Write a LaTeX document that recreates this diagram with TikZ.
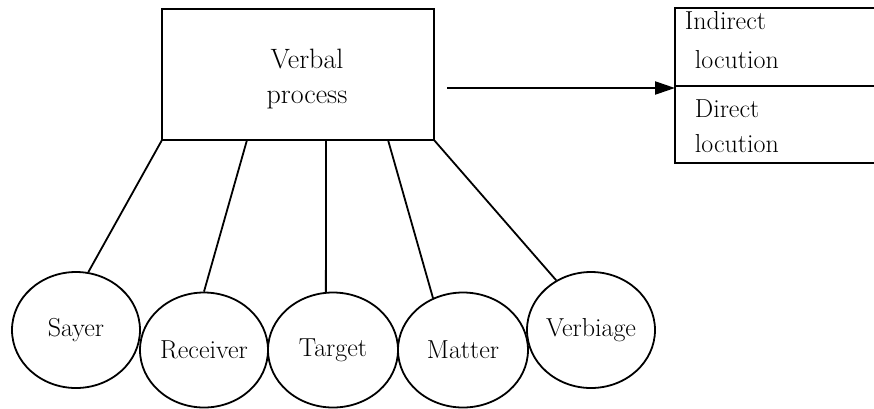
\documentclass[tikz,border=0pt]{standalone}
\usetikzlibrary{shapes.geometric,arrows.meta,calc}
\begin{document}
\begin{tikzpicture}[x=1pt,y=-1pt, line width=1.8pt,
  box/.style={draw, rectangle, inner sep=0pt, outer sep=0pt},
  role/.style={draw, ellipse, inner sep=0pt, minimum width=128pt, minimum height=116pt, font=\fontsize{26}{31}\selectfont},
  lbl/.style={font=\fontsize{26}{31}\selectfont, inner sep=0pt},
  biglbl/.style={font=\fontsize{28}{33}\selectfont, inner sep=0pt},
  conn/.style={line width=1.8pt},
  arr/.style={line width=2.2pt, -{Triangle[length=20pt,width=13pt]}}]
\useasboundingbox (0,0) rectangle (874,408);
\clip (0,0) rectangle (874,408);
% main box
\node[box, minimum width=272pt, minimum height=131pt] (vp) at (298,74.5) {};
\node[biglbl, anchor=base] (vpa) at (307,68) {Verbal};
\node[biglbl, anchor=base] (vpb) at (307,103) {process};
% locution boxes
\node[box, anchor=north west, minimum width=230pt, minimum height=78pt] (ind) at (675,8) {};
\node[box, anchor=north west, minimum width=230pt, minimum height=77pt] (dir) at (ind.south west) {};
\node[lbl, anchor=base west] (t1) at (684,29) {Indirect};
\node[lbl, anchor=base west] (t2) at (694,68) {locution};
\node[lbl, anchor=base west] (t3) at (694,117) {Direct};
\node[lbl, anchor=base west] (t4) at (694,152) {locution};
% arrow
\coordinate (as) at (447,88);
\draw[arr] (as) -- (as -| dir.west);
% roles
\node[role] (sayer) at (76,330) {Sayer};
\node[role, minimum height=115pt] (receiver) at (204,350) {Receiver};
\node[role, minimum width=130pt, minimum height=115pt] (target) at (333,350) {Target};
\node[role, minimum width=130pt, minimum height=115pt] (matter) at (463,350) {Matter};
\node[role] (verbiage) at (591,330) {Verbiage};
% connectors
\draw[conn] (vp.south west) -- (sayer.78);
\draw[conn] ($(vp.south west)!0.3125!(vp.south east)$) -- (receiver.90);
\draw[conn] ($(vp.south west)!0.603!(vp.south east)$) -- (target.97);
\draw[conn] ($(vp.south west)!0.831!(vp.south east)$) -- (matter.120);
\draw[conn] (vp.south east) -- (verbiage.125);
\end{tikzpicture}
\end{document}
